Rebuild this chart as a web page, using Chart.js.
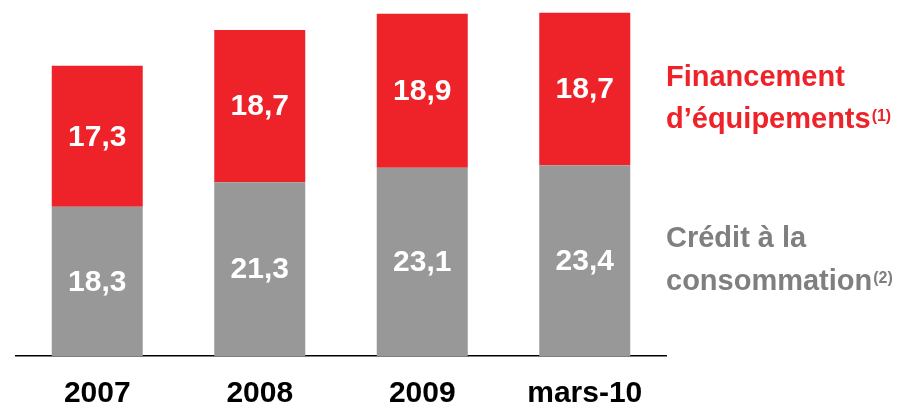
<!DOCTYPE html>
<html>
<head>
<meta charset="utf-8">
<script src="https://cdn.jsdelivr.net/npm/chart.js@4.4.0/dist/chart.umd.min.js"></script>
<style>
  html, body { margin: 0; padding: 0; background: #fff; }
  #wrap { width: 901px; height: 408px; position: relative; }
</style>
</head>
<body>
<div id="wrap"><canvas id="chart" width="901" height="408"></canvas></div>
<script>
// Data
const categories = ['2007', '2008', '2009', 'mars-10'];
const creditConso = [18.3, 21.3, 23.1, 23.4];
const financementEquip = [17.3, 18.7, 18.9, 18.7];

const RED = '#ED2329';
const GREY = '#989898';
const GREY_TEXT = '#7F7F7F';
const FONT = '"Liberation Sans", Arial, sans-serif';

// Draws the value in the middle of each bar segment
const barValues = {
  id: 'barValues',
  afterDatasetsDraw(chart) {
    const ctx = chart.ctx;
    ctx.save();
    ctx.fillStyle = '#fff';
    ctx.font = `bold 30px ${FONT}`;
    ctx.textAlign = 'center';
    ctx.textBaseline = 'middle';
    chart.data.datasets.forEach((ds, i) => {
      chart.getDatasetMeta(i).data.forEach((bar, j) => {
        const mid = (bar.y + bar.base) / 2;
        ctx.fillText(ds.data[j].toFixed(1).replace('.', ','), bar.x, mid + 1);
      });
    });
    ctx.restore();
  }
};

// Series names on the right, with their footnote marks
const sideLabels = {
  id: 'sideLabels',
  afterDraw(chart) {
    const ctx = chart.ctx;
    const x = 666;
    ctx.save();
    ctx.textAlign = 'left';
    ctx.textBaseline = 'alphabetic';
    const lines = [
      { text: 'Financement', y: 86, color: RED },
      { text: 'd\u2019équipements', y: 128, color: RED, sup: '(1)' },
      { text: 'Crédit à la', y: 247, color: GREY_TEXT },
      { text: 'consommation', y: 290, color: GREY_TEXT, sup: '(2)' }
    ];
    lines.forEach(l => {
      ctx.fillStyle = l.color;
      ctx.font = `bold 29px ${FONT}`;
      ctx.fillText(l.text, x, l.y);
      if (l.sup) {
        const w = ctx.measureText(l.text).width;
        ctx.font = `bold 16px ${FONT}`;
        ctx.fillText(l.sup, x + w + 1, l.y - 7);
      }
    });
    ctx.restore();
  }
};

new Chart(document.getElementById('chart').getContext('2d'), {
  type: 'bar',
  data: {
    labels: categories,
    datasets: [
      { label: 'Crédit à la consommation', data: creditConso, backgroundColor: GREY },
      { label: 'Financement d\u2019équipements', data: financementEquip, backgroundColor: RED }
    ]
  },
  options: {
    responsive: false,
    animation: false,
    layout: { padding: { left: 16, right: 235, top: 12, bottom: 0 } },
    datasets: { bar: { barPercentage: 1, categoryPercentage: 0.56 } },
    scales: {
      x: {
        stacked: true,
        grid: { display: false, drawTicks: false },
        border: { display: true, color: '#000', width: 1.5 },
        ticks: { color: '#000', font: { family: FONT, size: 30, weight: 'bold' }, padding: 20 },
        afterFit: (scale) => { scale.height = 52; }
      },
      y: {
        stacked: true,
        display: false,
        min: 0,
        max: 42.2
      }
    },
    plugins: {
      legend: { display: false },
      tooltip: { enabled: false }
    }
  },
  plugins: [barValues, sideLabels]
});
</script>
</body>
</html>
